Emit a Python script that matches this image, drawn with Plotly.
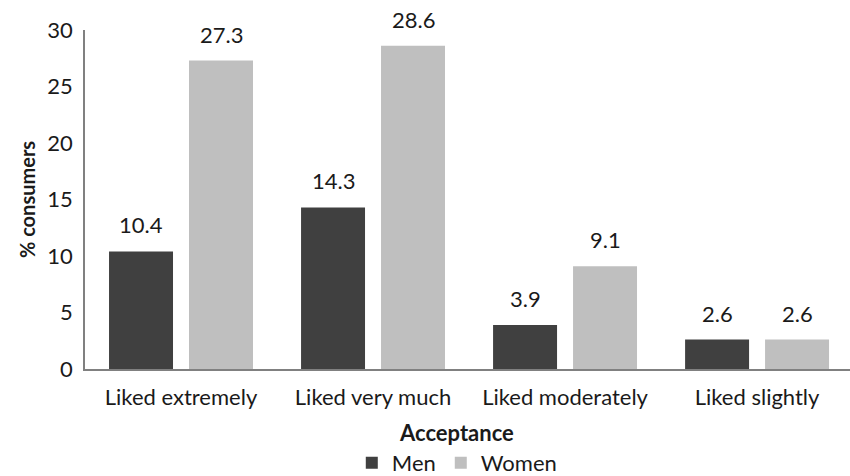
import plotly.graph_objects as go

categories = ["Liked extremely", "Liked very much", "Liked moderately", "Liked slightly"]
men = [10.4, 14.3, 3.9, 2.6]
women = [27.3, 28.6, 9.1, 2.6]
y_ticks = [0, 5, 10, 15, 20, 25, 30]

MEN_COLOR = "#404040"
WOMEN_COLOR = "#bfbfbf"
FONT = "Lato"

fig = go.Figure()
fig.add_trace(go.Bar(name="Men", x=categories, y=men, marker=dict(color=MEN_COLOR, line=dict(width=0))))
fig.add_trace(go.Bar(name="Women", x=categories, y=women, marker=dict(color=WOMEN_COLOR, line=dict(width=0))))

# value labels above each bar (grouped bars sit at +/- offset around the category)
offset = 0.2083
for i, (m, w) in enumerate(zip(men, women)):
    for xv, val in ((i - offset, m), (i + offset, w)):
        fig.add_annotation(x=xv, y=val, text=f"{val:.1f}", showarrow=False,
                           xref="x", yref="y", yanchor="bottom", yshift=11,
                           font=dict(family=FONT, size=22, color="#1a1a1a"))

fig.add_annotation(x=0.486, y=-0.141, xref="paper", yref="paper", text="<b>Acceptance</b>",
                   showarrow=False, yanchor="top", font=dict(family=FONT, size=22, color="#1a1a1a"))

fig.update_layout(
    width=850, height=476,
    margin=dict(l=85, r=0, t=30, b=107, autoexpand=False),
    paper_bgcolor="white", plot_bgcolor="white",
    barmode="group", bargap=0.167, bargroupgap=0.2,
    font=dict(family=FONT, size=22, color="#1a1a1a"),
    showlegend=True,
    legend=dict(orientation="h", x=0.486, xanchor="center", y=1 - 442 / 476, yanchor="top",
                yref="container",
                font=dict(family=FONT, size=22, color="#1a1a1a"), itemwidth=30,
                traceorder="normal"),
    xaxis=dict(range=[-0.5, 3.484], showline=True, linecolor="#808080", linewidth=1.5,
               ticks="", showgrid=False, ticklabelstandoff=8, automargin=False,
               tickfont=dict(family=FONT, size=22, color="#1a1a1a")),
    yaxis=dict(range=[0, 30], tickvals=y_ticks, showline=True, linecolor="#808080", linewidth=1.5,
               ticks="", showgrid=False, zeroline=False, ticklabelstandoff=6, automargin=False,
               tickfont=dict(family=FONT, size=22, color="#1a1a1a"),
               title=dict(text="<b>% consumers</b>", standoff=6,
                          font=dict(family=FONT, size=20, color="#1a1a1a"))),
)

fig.write_html("out.html")
